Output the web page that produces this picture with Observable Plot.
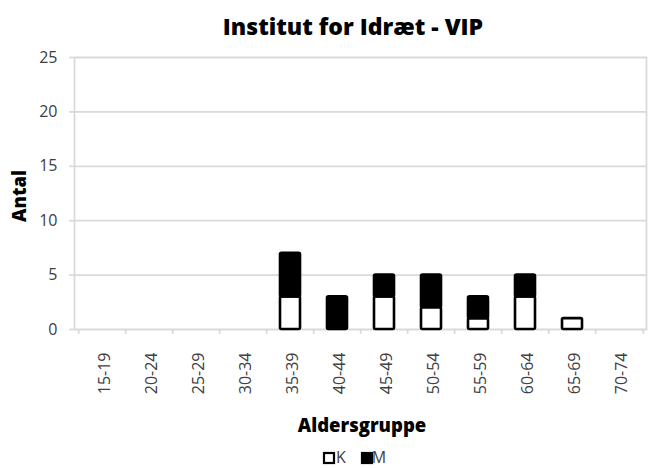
<!DOCTYPE html>
<html>
<head>
<meta charset="utf-8">
<script src="https://cdn.jsdelivr.net/npm/d3@7"></script>
<script src="https://cdn.jsdelivr.net/npm/@observablehq/plot@0.6"></script>
<style>
  html, body { margin: 0; padding: 0; background: #fff; }
  #chart { width: 648px; height: 468px; font-family: "Open Sans", sans-serif; }
</style>
</head>
<body>
<div id="chart"></div>
<script>
const groups = ["15-19","20-24","25-29","30-34","35-39","40-44","45-49","50-54","55-59","60-64","65-69","70-74"];
const kValues = [0,0,0,0,3,0,3,2,1,3,1,0];
const mValues = [0,0,0,0,4,3,2,3,2,2,0,0];
const series = ["K","M"];
const yTicks = [0,5,10,15,20,25];

const rows = [];
groups.forEach((g, i) => {
  rows.push({group: g, sex: "K", count: kValues[i]});
  rows.push({group: g, sex: "M", count: mValues[i]});
});
const bars = rows.filter(d => d.count > 0);

const W = 648, H = 468;
const mL = 74, mR = 2, mT = 57, mB = 139;
const step = (W - mL - mR) / groups.length;
const grid = "#d9d9d9";

const plot = Plot.plot({
  width: W,
  height: H,
  marginLeft: mL,
  marginRight: mR,
  marginTop: mT,
  marginBottom: mB,
  style: {fontFamily: "Open Sans, sans-serif", fontSize: "16px", color: "#404040", background: "white"},
  x: {domain: groups, paddingInner: 0.58, paddingOuter: 0.29, label: null},
  y: {domain: [0, 25], label: null},
  color: {domain: series, range: ["white", "black"]},
  marks: [
    Plot.gridY(yTicks, {stroke: grid, strokeOpacity: 1, strokeWidth: 1.7}),
    Plot.frame({stroke: grid, strokeWidth: 1.7}),
    Plot.ruleX(groups, {x: d => d, dx: -step / 2, y1: 0, y2: -0.45, stroke: grid, strokeWidth: 1.7}),
    Plot.ruleX([groups[groups.length - 1]], {x: d => d, dx: step / 2, y1: 0, y2: -0.45, stroke: grid, strokeWidth: 1.7}),
    Plot.axisY(yTicks, {tickSize: 5, tickPadding: 12, stroke: grid, strokeWidth: 1.7, fill: "#404040", fontSize: 16, label: null}),
    Plot.axisX({tickSize: 0, tickPadding: 23, tickRotate: -90, fontSize: 16, dx: 2, fill: "#404040", label: null}),
    Plot.barY(bars, {x: "group", y: "count", fill: "sex", stroke: "black", strokeWidth: 2.6, rx: 1.5})
  ]
});

document.getElementById("chart").appendChild(plot);

const svg = d3.select(plot);
svg.append("text")
  .attr("x", 353).attr("y", 35)
  .attr("text-anchor", "middle")
  .attr("font-family", "Open Sans, sans-serif")
  .attr("font-weight", 800)
  .attr("font-size", 23)
  .attr("fill", "black")
  .text("Institut for Idræt - VIP");

svg.append("text")
  .attr("transform", "translate(26,196) rotate(-90)")
  .attr("text-anchor", "middle")
  .attr("font-family", "Open Sans, sans-serif")
  .attr("font-weight", 800)
  .attr("font-size", 18.5)
  .attr("fill", "black")
  .text("Antal");

svg.append("text")
  .attr("x", 362).attr("y", 432)
  .attr("text-anchor", "middle")
  .attr("font-family", "Open Sans, sans-serif")
  .attr("font-weight", 800)
  .attr("font-size", 18.5)
  .attr("fill", "black")
  .text("Aldersgruppe");

// legend
const lg = svg.append("g");
const legendX = [324, 362];
series.forEach((s, i) => {
  lg.append("rect")
    .attr("x", legendX[i]).attr("y", 453)
    .attr("width", 10).attr("height", 10)
    .attr("fill", s === "K" ? "white" : "black")
    .attr("stroke", "black").attr("stroke-width", 2.2);
  lg.append("text")
    .attr("x", legendX[i] + 17).attr("y", 463)
    .style("font-family", "Open Sans, sans-serif")
    .style("font-size", "16px")
    .style("fill", "#404040")
    .text(s);
});
</script>
</body>
</html>
